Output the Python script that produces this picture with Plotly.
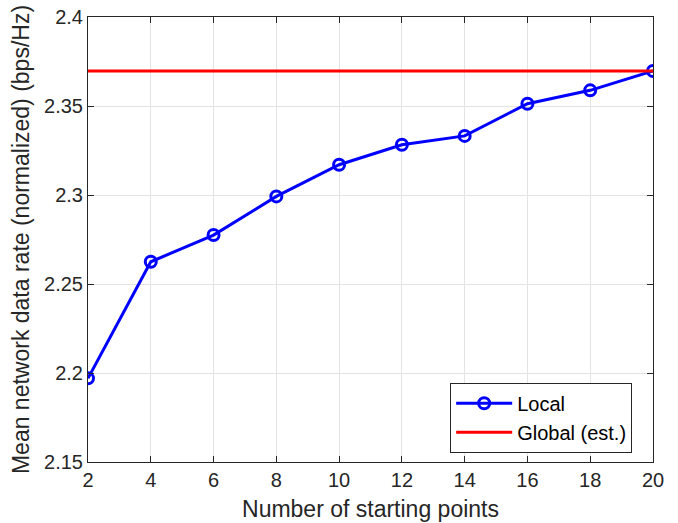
import plotly.graph_objects as go

starting_points = [2, 4, 6, 8, 10, 12, 14, 16, 18, 20]
local_rate = [2.197, 2.2625, 2.2775, 2.2992, 2.317, 2.3282, 2.3332, 2.3513, 2.3588, 2.3697]
global_rate = 2.3697
x_ticks = [2, 4, 6, 8, 10, 12, 14, 16, 18, 20]
y_ticks = [2.15, 2.2, 2.25, 2.3, 2.35, 2.4]
y_tick_text = ["2.15", "2.2", "2.25", "2.3", "2.35", "2.4"]

FONT = "Liberation Sans, Arial, Helvetica, sans-serif"

fig = go.Figure()
fig.add_trace(go.Scatter(
    x=starting_points, y=local_rate, mode="lines+markers", name="Local",
    line=dict(color="#0000ff", width=3),
    marker=dict(symbol="circle-open", size=11, color="#0000ff", line=dict(width=3)),
))
fig.add_trace(go.Scatter(
    x=[starting_points[0], starting_points[-1]], y=[global_rate, global_rate],
    mode="lines", name="Global (est.)",
    line=dict(color="#ff0000", width=3),
))

axis_common = dict(
    showline=True, linecolor="#262626", linewidth=1, mirror="ticks",
    ticks="inside", ticklen=6, tickcolor="#262626", tickwidth=1,
    showgrid=True, gridcolor="#e3e3e3", gridwidth=1, zeroline=False,
    tickfont=dict(family=FONT, size=20, color="#262626"),
    automargin=False,
)

fig.update_xaxes(range=[2, 20], tickvals=x_ticks, ticktext=[str(v) for v in x_ticks],
                 title=dict(text="Number of starting points", standoff=10,
                            font=dict(family=FONT, size=23, color="#262626")),
                 **axis_common)
fig.update_yaxes(range=[2.15, 2.4], tickvals=y_ticks, ticktext=y_tick_text,
                 title=dict(text="Mean network data rate (normalized) (bps/Hz)", standoff=8,
                            font=dict(family=FONT, size=23, color="#262626")),
                 **axis_common)

fig.update_layout(
    width=678, height=523,
    margin=dict(l=88, r=25, t=17, b=61),
    plot_bgcolor="white", paper_bgcolor="white",
    legend=dict(x=0.641, y=0.178, xanchor="left", yanchor="top",
                bordercolor="#262626", borderwidth=1, bgcolor="white",
                font=dict(family=FONT, size=20, color="black"),
                itemwidth=56, tracegroupgap=0),
    showlegend=True,
)

fig.write_html("out.html", config={"displayModeBar": False},
               post_script="document.body.style.margin='0';document.body.style.padding='0';")
